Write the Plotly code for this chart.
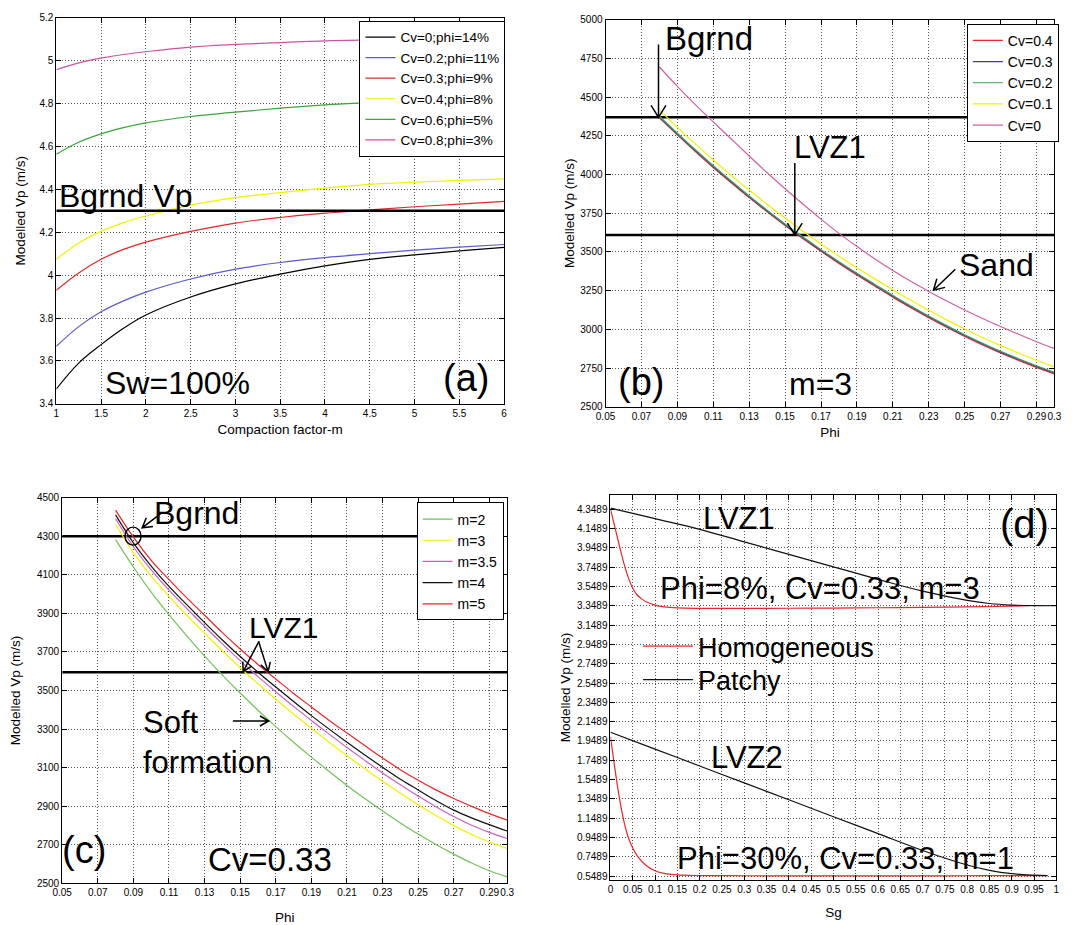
import math
import plotly.graph_objects as go

W, H = 1091, 925
FONT = "Liberation Sans, Arial, sans-serif"

# ---------------- Panel (a) ----------------
a_m = [1, 1.25, 1.5, 1.75, 2, 2.5, 3, 3.5, 4, 4.5, 5, 5.5, 6]
a_names = ["Cv=0;phi=14%", "Cv=0.2;phi=11%", "Cv=0.3;phi=9%",
           "Cv=0.4;phi=8%", "Cv=0.6;phi=5%", "Cv=0.8;phi=3%"]
a_cv0 = [3.469, 3.590, 3.676, 3.752, 3.814, 3.898, 3.959, 4.005, 4.043, 4.074, 4.095, 4.113, 4.130]
a_cv02 = [3.668, 3.760, 3.829, 3.880, 3.921, 3.982, 4.028, 4.059, 4.082, 4.100, 4.117, 4.131, 4.143]
a_cv03 = [3.929, 4.010, 4.074, 4.120, 4.154, 4.204, 4.243, 4.269, 4.289, 4.304, 4.319, 4.331, 4.344]
a_cv04 = [4.074, 4.150, 4.204, 4.245, 4.276, 4.327, 4.362, 4.385, 4.406, 4.423, 4.434, 4.442, 4.449]
a_cv06 = [4.564, 4.620, 4.659, 4.688, 4.710, 4.740, 4.760, 4.779, 4.794, 4.805, 4.812, 4.818, 4.825]
a_cv08 = [4.958, 4.990, 5.012, 5.029, 5.042, 5.064, 5.076, 5.085, 5.093, 5.097, 5.100, 5.105, 5.111]
a_colors = ["#000000", "#5a5acd", "#e02a2a", "#f2f200", "#3aa53a", "#c8559f"]
a_bgrnd = 4.3
a_xticks = [1, 1.5, 2, 2.5, 3, 3.5, 4, 4.5, 5, 5.5, 6]
a_xlabels = ["1", "1.5", "2", "2.5", "3", "3.5", "4", "4.5", "5", "5.5", "6"]
a_yticks = [3.4, 3.6, 3.8, 4.0, 4.2, 4.4, 4.6, 4.8, 5.0, 5.2]
a_ylabels = ["3.4", "3.6", "3.8", "4", "4.2", "4.4", "4.6", "4.8", "5", "5.2"]

# ---------------- Panel (b) ----------------
b_phi = [0.08, 0.09, 0.10, 0.11, 0.12, 0.13, 0.14, 0.15, 0.16, 0.17, 0.18, 0.19,
         0.20, 0.21, 0.22, 0.23, 0.24, 0.25, 0.26, 0.27, 0.28, 0.29, 0.30]
b_names = ["Cv=0.4", "Cv=0.3", "Cv=0.2", "Cv=0.1", "Cv=0"]
b_cv04 = [4366, 4256, 4149, 4046, 3947, 3851, 3759, 3670, 3585, 3504, 3426, 3351,
          3279, 3208, 3140, 3075, 3013, 2954, 2899, 2847, 2799, 2754, 2711]
b_cv03 = [4372, 4262, 4155, 4052, 3953, 3857, 3765, 3676, 3591, 3510, 3432, 3357,
          3285, 3214, 3146, 3081, 3019, 2960, 2905, 2853, 2805, 2760, 2717]
b_cv02 = [4377, 4267, 4160, 4057, 3958, 3862, 3770, 3681, 3596, 3515, 3437, 3362,
          3290, 3219, 3151, 3086, 3024, 2965, 2910, 2858, 2810, 2765, 2722]
b_cv01 = [4418, 4305, 4198, 4094, 3995, 3900, 3808, 3719, 3633, 3551, 3473, 3398,
          3326, 3256, 3188, 3123, 3061, 3002, 2947, 2895, 2847, 2800, 2757]
b_cv0 = [4695, 4570, 4452, 4340, 4230, 4120, 4012, 3908, 3808, 3712, 3620, 3535,
         3455, 3380, 3310, 3245, 3183, 3125, 3070, 3018, 2968, 2920, 2875]
b_colors = ["#e8262b", "#4b3a8c", "#3c9f5a", "#f2f200", "#d0609f"]
b_bgrnd = 4370
b_lvz1 = 3610
b_xticks = [0.05, 0.07, 0.09, 0.11, 0.13, 0.15, 0.17, 0.19, 0.21, 0.23, 0.25, 0.27, 0.29, 0.3]
b_xlabels = ["0.05", "0.07", "0.09", "0.11", "0.13", "0.15", "0.17", "0.19", "0.21",
             "0.23", "0.25", "0.27", "0.29", "0.3"]
b_yticks = [2500, 2750, 3000, 3250, 3500, 3750, 4000, 4250, 4500, 4750, 5000]

# ---------------- Panel (c) ----------------
c_phi = [0.08, 0.09, 0.10, 0.11, 0.12, 0.13, 0.14, 0.15, 0.16, 0.17, 0.18, 0.19,
         0.20, 0.21, 0.22, 0.23, 0.24, 0.25, 0.26, 0.27, 0.28, 0.29, 0.30]
c_names = ["m=2", "m=3", "m=3.5", "m=4", "m=5"]
c_m2 = [4282, 4140, 4010, 3893, 3783, 3678, 3580, 3487, 3398, 3313, 3232, 3155,
        3080, 3008, 2940, 2875, 2814, 2756, 2702, 2652, 2606, 2566, 2534]
c_m3 = [4362, 4215, 4093, 3988, 3890, 3797, 3706, 3618, 3535, 3455, 3378, 3304,
        3232, 3162, 3095, 3030, 2968, 2908, 2852, 2800, 2754, 2715, 2682]
c_m35 = [4390, 4245, 4125, 4020, 3925, 3832, 3742, 3655, 3572, 3494, 3418, 3345,
         3274, 3205, 3138, 3073, 3012, 2953, 2898, 2847, 2802, 2765, 2733]
c_m4 = [4410, 4265, 4145, 4040, 3945, 3852, 3762, 3676, 3595, 3518, 3443, 3370,
        3300, 3232, 3166, 3102, 3040, 2985, 2930, 2880, 2840, 2805, 2772]
c_m5 = [4435, 4295, 4175, 4075, 3980, 3890, 3800, 3715, 3635, 3560, 3485, 3415,
        3345, 3280, 3215, 3150, 3090, 3035, 2985, 2940, 2900, 2862, 2828]
c_colors = ["#72c25a", "#f2f200", "#cc5fc0", "#111111", "#e8262b"]
c_bgrnd = 4300
c_bgrnd_end = 0.25
c_lvz1 = 3595
c_yticks = [2500, 2700, 2900, 3100, 3300, 3500, 3700, 3900, 4100, 4300, 4500]

# ---------------- Panel (d) ----------------
d_sg_h1 = [0, 0.01, 0.02, 0.03, 0.04, 0.05, 0.06, 0.07, 0.08, 0.10, 0.12, 0.15,
           0.2, 0.3, 0.4, 0.5, 0.6, 0.7, 0.8, 0.9, 0.94]
d_h1 = [4.349, 4.16, 3.97, 3.79, 3.64, 3.53, 3.46, 3.42, 3.39, 3.355, 3.337, 3.326,
        3.322, 3.322, 3.323, 3.325, 3.328, 3.332, 3.338, 3.345, 3.349]
d_sg_p1 = [0, 0.1, 0.2, 0.3, 0.4, 0.5, 0.6, 0.7, 0.8, 0.85, 0.9, 0.95, 1.0]
d_p1 = [4.36, 4.25, 4.14, 4.01, 3.88, 3.752, 3.622, 3.50, 3.405, 3.372, 3.356, 3.350, 3.349]
d_sg_h2 = [0, 0.01, 0.02, 0.03, 0.04, 0.05, 0.06, 0.08, 0.10, 0.12, 0.15, 0.2,
           0.3, 0.4, 0.5, 0.6, 0.7, 0.8, 0.9, 0.98]
d_h2 = [1.99, 1.66, 1.36, 1.12, 0.95, 0.84, 0.76, 0.66, 0.605, 0.578, 0.562, 0.556,
        0.554, 0.553, 0.553, 0.553, 0.553, 0.554, 0.555, 0.556]
d_sg_p2 = [0, 0.1, 0.2, 0.3, 0.4, 0.5, 0.6, 0.7, 0.8, 0.85, 0.9, 0.95, 0.98]
d_p2 = [2.04, 1.865, 1.69, 1.515, 1.34, 1.165, 0.99, 0.815, 0.665, 0.61, 0.575, 0.56, 0.556]
d_xticks = [0, 0.05, 0.1, 0.15, 0.2, 0.25, 0.3, 0.35, 0.4, 0.45, 0.5, 0.55, 0.6, 0.65,
            0.7, 0.75, 0.8, 0.85, 0.9, 0.95, 1]
d_xlabels = ["0", "0.05", "0.1", "0.15", "0.2", "0.25", "0.3", "0.35", "0.4", "0.45",
             "0.5", "0.55", "0.6", "0.65", "0.7", "0.75", "0.8", "0.85", "0.9", "0.95", "1"]
d_yticks = [0.5489, 0.7489, 0.9489, 1.1489, 1.3489, 1.5489, 1.7489, 1.9489, 2.1489, 2.3489,
            2.5489, 2.7489, 2.9489, 3.1489, 3.3489, 3.5489, 3.7489, 3.9489, 4.1489, 4.3489]
d_ylabels = ["0.5489", "0.7489", "0.9489", "1.1489", "1.3489", "1.5489", "1.7489", "1.9489",
             "2.1489", "2.3489", "2.5489", "2.7489", "2.9489", "3.1489", "3.3489", "3.5489",
             "3.7489", "3.9489", "4.1489", "4.3489"]

# ---------------- layout geometry ----------------
DOM = {
    "a": dict(x=[0.0431, 0.4601], y=[0.5643, 0.9870], xr=[1, 6], yr=[3.4, 5.2]),
    "b": dict(x=[0.5545, 0.9725], y=[0.5611, 0.9849], xr=[0.05, 0.3], yr=[2500, 5000]),
    "c": dict(x=[0.0486, 0.4629], y=[0.0389, 0.4616], xr=[0.05, 0.3], yr=[2500, 4500]),
    "d": dict(x=[0.5591, 0.9743], y=[0.0422, 0.4649], xr=[0, 1], yr=[0.505, 4.5]),
}
AX = {"a": ("x", "y"), "b": ("x2", "y2"), "c": ("x3", "y3"), "d": ("x4", "y4")}


def scale(p):
    d = DOM[p]
    sx = (d["x"][1] - d["x"][0]) * W / (d["xr"][1] - d["xr"][0])
    sy = (d["y"][1] - d["y"][0]) * H / (d["yr"][1] - d["yr"][0])
    return sx, sy


fig = go.Figure()


def line(p, x, y, name, color, width=1.2, legend=None, show=True, shape="spline"):
    xa, ya = AX[p]
    fig.add_trace(go.Scatter(
        x=x, y=y, name=name, mode="lines", xaxis=xa, yaxis=ya,
        line=dict(color=color, width=width, shape=shape, smoothing=1.0),
        showlegend=show, legend=legend))


# panel a
for nm, ys, col in zip(a_names, [a_cv0, a_cv02, a_cv03, a_cv04, a_cv06, a_cv08], a_colors):
    line("a", a_m, ys, nm, col, legend="legend")
line("a", [a_xticks[0], a_xticks[-1]], [a_bgrnd, a_bgrnd], "bg", "black", 2.5, show=False, shape="linear")

# panel b
line("b", [b_xticks[0], b_xticks[-1]], [b_bgrnd, b_bgrnd], "bg", "black", 2.5, show=False, shape="linear")
line("b", [b_xticks[0], b_xticks[-1]], [b_lvz1, b_lvz1], "lvz", "black", 2.5, show=False, shape="linear")
for nm, ys, col in zip(b_names, [b_cv04, b_cv03, b_cv02, b_cv01, b_cv0], b_colors):
    line("b", b_phi, ys, nm, col, legend="legend2")

# panel c
line("c", [b_xticks[0], c_bgrnd_end], [c_bgrnd, c_bgrnd], "bg", "black", 2.5, show=False, shape="linear")
line("c", [b_xticks[0], b_xticks[-1]], [c_lvz1, c_lvz1], "lvz", "black", 2.5, show=False, shape="linear")
for nm, ys, col in zip(c_names, [c_m2, c_m3, c_m35, c_m4, c_m5], c_colors):
    line("c", c_phi, ys, nm, col, legend="legend3")

# panel d
line("d", d_sg_h1, d_h1, "Homogeneous", "#e8262b", 1.2, legend="legend4")
line("d", d_sg_p1, d_p1, "Patchy", "#111111", 1.2, legend="legend5")
line("d", d_sg_h2, d_h2, "Homogeneous", "#e8262b", 1.2, show=False)
line("d", d_sg_p2, d_p2, "Patchy", "#111111", 1.2, show=False)


# ---------------- arrows (open V heads) ----------------
def arrow(p, tip, tail, head=13, ang=30, width=1.5):
    xa, ya = AX[p]
    sx, sy = scale(p)
    dx = (tail[0] - tip[0]) * sx
    dy = (tail[1] - tip[1]) * sy  # pixels, y up
    L = math.hypot(dx, dy)
    ux, uy = dx / L, dy / L
    pts = []
    for s in (1, -1):
        a = math.radians(ang * s)
        pts.append(((ux * math.cos(a) - uy * math.sin(a)) * head,
                    (ux * math.sin(a) + uy * math.cos(a)) * head))
    path = (f"M{dx:.2f},{dy:.2f} L0,0 M{pts[0][0]:.2f},{pts[0][1]:.2f} L0,0 "
            f"L{pts[1][0]:.2f},{pts[1][1]:.2f}")
    fig.add_shape(type="path", xref=xa, yref=ya, xsizemode="pixel", ysizemode="pixel",
                  xanchor=tip[0], yanchor=tip[1], path=path,
                  line=dict(color="black", width=width))


arrow("b", (0.0795, b_bgrnd), (0.0795, 4834), head=14, ang=32)
arrow("b", (0.1554, b_lvz1), (0.1554, 4069), head=14, ang=32)
arrow("b", (0.2326, 3253), (0.2446, 3386), head=12, ang=30)
arrow("c", (0.0949, 4343), (0.1052, 4416), head=11, ang=30)
arrow("c", (0.1517, 3598), (0.1604, 3753), head=10, ang=30)
arrow("c", (0.1657, 3598), (0.1604, 3753), head=10, ang=30)
arrow("c", (0.1660, 3342), (0.1462, 3342), head=10, ang=30)

# circle marking background crossing
fig.add_shape(type="circle", xref="x3", yref="y3", xsizemode="pixel", ysizemode="pixel",
              xanchor=0.0898, yanchor=c_bgrnd, x0=-8, x1=8, y0=-9, y1=9,
              line=dict(color="black", width=1.4))


# ---------------- big text labels ----------------
def text(p, x, y, s, size, xanchor="center", align="center"):
    xa, ya = AX[p]
    fig.add_annotation(x=x, y=y, xref=xa, yref=ya, text=s, showarrow=False,
                       xanchor=xanchor, yanchor="middle", align=align,
                       font=dict(family=FONT, size=size, color="black"))


text("a", 1.01, 4.369, "Bgrnd Vp", 32, xanchor="left")
text("a", 2.352, 3.499, "Sw=100%", 32)
text("a", 5.571, 3.519, "(a)", 38)

text("b", 0.0818, 4876, "Bgrnd", 33, xanchor="left")
text("b", 0.1536, 4177, "LVZ1", 31, xanchor="left")
text("b", 0.2456, 3415, "Sand", 32, xanchor="left")
text("b", 0.0697, 2659, "(b)", 38)
text("b", 0.1695, 2647, "m=3", 32)

text("c", 0.1005, 4418, "Bgrnd", 32, xanchor="left")
text("c", 0.1540, 3825, "LVZ1", 30, xanchor="left")
text("c", 0.0942, 3232, "Soft<br>formation", 31, xanchor="left", align="left")
text("c", 0.0622, 2674, "(c)", 38)
text("c", 0.1667, 2623, "Cv=0.33", 33)

text("d", 0.289, 4.247, "LVZ1", 31)
text("d", 0.929, 4.196, "(d)", 40)
text("d", 0.470, 3.532, "Phi=8%, Cv=0.33, m=3", 31)
text("d", 0.307, 1.775, "LVZ2", 31)
text("d", 0.528, 0.733, "Phi=30%, Cv=0.33, m=1", 31)


# ---------------- axes ----------------
def axis(p, which, **kw):
    d = DOM[p]
    base = dict(domain=d[which], range=d[which + "r"], showline=True, linecolor="black",
                linewidth=1, mirror="ticks", ticks="inside", ticklen=5, tickcolor="black",
                showgrid=True, gridcolor="#555555", griddash="1px,2px", gridwidth=1,
                zeroline=False, tickangle=0, fixedrange=True,
                tickfont=dict(family=FONT, size=10, color="black"),
                title_font=dict(family=FONT, size=13.5, color="black"))
    base.update(kw)
    return base


ylab = "Modelled Vp (m/s)"
fig.update_layout(
    xaxis=axis("a", "x", anchor="y", tickvals=a_xticks, ticktext=a_xlabels,
               title=dict(text="Compaction factor-m", standoff=6)),
    yaxis=axis("a", "y", anchor="x", tickvals=a_yticks, ticktext=a_ylabels,
               title=dict(text=ylab, standoff=10)),
    xaxis2=axis("b", "x", anchor="y2", tickvals=b_xticks, ticktext=b_xlabels,
                title=dict(text="Phi", standoff=6)),
    yaxis2=axis("b", "y", anchor="x2", tickvals=b_yticks,
                title=dict(text=ylab, standoff=2)),
    xaxis3=axis("c", "x", anchor="y3", tickvals=b_xticks, ticktext=b_xlabels,
                title=dict(text="Phi", standoff=16)),
    yaxis3=axis("c", "y", anchor="x3", tickvals=c_yticks,
                title=dict(text=ylab, standoff=13)),
    xaxis4=axis("d", "x", anchor="y4", tickvals=d_xticks, ticktext=d_xlabels,
                title=dict(text="Sg", standoff=13)),
    yaxis4=axis("d", "y", anchor="x4", tickvals=d_yticks, ticktext=d_ylabels,
                title=dict(text=ylab, standoff=3)),
)

leg_common = dict(bgcolor="white", bordercolor="black", borderwidth=1,
                  xanchor="left", yanchor="top", tracegroupgap=0)
fig.update_layout(
    legend=dict(x=355 / W, y=1 - 15 / H, font=dict(family=FONT, size=13.5, color="black"),
                **leg_common),
    legend2=dict(x=972 / W, y=1 - 18 / H, font=dict(family=FONT, size=14, color="black"),
                 **leg_common),
    legend3=dict(x=413 / W, y=1 - 503 / H, font=dict(family=FONT, size=14, color="black"),
                 **leg_common),
    legend4=dict(x=638 / W, y=1 - 649 / H, xanchor="left", yanchor="middle",
                 bgcolor="rgba(0,0,0,0)", borderwidth=0, itemwidth=50,
                 font=dict(family=FONT, size=27, color="black")),
    legend5=dict(x=638 / W, y=1 - 683 / H, xanchor="left", yanchor="middle",
                 bgcolor="rgba(0,0,0,0)", borderwidth=0, itemwidth=50,
                 font=dict(family=FONT, size=27, color="black")),
)

fig.update_layout(width=W, height=H, autosize=False,
                  margin=dict(l=0, r=0, t=0, b=0),
                  paper_bgcolor="white", plot_bgcolor="white",
                  font=dict(family=FONT, color="black"))

fig.write_html("out.html", config={"displayModeBar": False})
